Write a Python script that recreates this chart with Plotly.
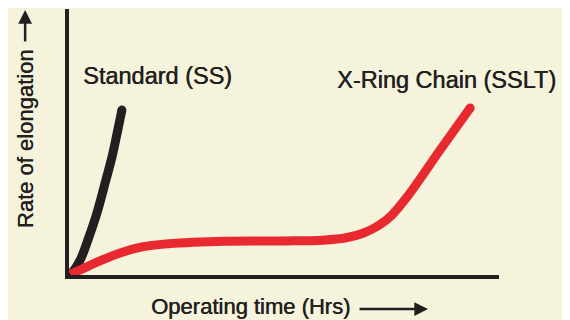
import plotly.graph_objects as go

# Data (arbitrary units)
standard_x = [0, 1.0, 2.6, 4.4, 6.5, 8.4, 10.0, 11.2, 12.3]
standard_y = [0, 1.5, 5.6, 13.2, 23.3, 34.6, 44.4, 53.4, 62.0]

xring_x = [0.3, 3.0, 7.2, 11.9, 16.5, 22.0, 34.4, 50.0, 59.0, 64.5, 68.5, 72.0, 75.0, 78.6, 86.3, 93.3]
xring_y = [0.2, 2.2, 5.3, 8.3, 10.4, 11.6, 12.6, 12.8, 13.1, 14.0, 15.8, 18.6, 22.4, 29.3, 47.0, 62.8]

labels = ["Standard (SS)", "X-Ring Chain (SSLT)"]
x_title = "Operating time (Hrs)"
y_title = "Rate of elongation"

BG = "#f5f3dc"
DARK = "#231f20"
RED = "#e8292f"
FONT = "Liberation Sans"
SH = "0.5px 0px 0px #231f20"

fig = go.Figure()
fig.add_trace(go.Scatter(x=standard_x, y=standard_y, mode="lines", line=dict(color=DARK, width=9, shape="spline", smoothing=1.0),
                         hoverinfo="skip", showlegend=False))
fig.add_trace(go.Scatter(x=[standard_x[-1]], y=[standard_y[-1]], mode="markers", marker=dict(color=DARK, size=9),
                         hoverinfo="skip", showlegend=False))
fig.add_trace(go.Scatter(x=xring_x, y=xring_y, mode="lines", line=dict(color=RED, width=9, shape="spline", smoothing=1.0),
                         hoverinfo="skip", showlegend=False))
fig.add_trace(go.Scatter(x=[xring_x[-1]], y=[xring_y[-1]], mode="markers", marker=dict(color=RED, size=9),
                         hoverinfo="skip", showlegend=False))

fig.update_xaxes(range=[0, 100], showline=True, linewidth=4, linecolor=DARK, showgrid=False,
                 zeroline=False, showticklabels=False, ticks="")
fig.update_yaxes(range=[0, 100], showline=True, linewidth=4, linecolor=DARK, showgrid=False,
                 zeroline=False, showticklabels=False, ticks="")

tf = dict(family=FONT, size=23.5, color=DARK, shadow=SH)
af = dict(family=FONT, size=22, color=DARK, shadow=SH)
fig.add_annotation(text=labels[0], xref="paper", yref="paper", x=0.205, y=0.748, showarrow=False, font=tf,
                   xanchor="center", yanchor="middle")
fig.add_annotation(text=labels[1], xref="paper", yref="paper", x=0.877, y=0.733, showarrow=False, font=tf,
                   xanchor="center", yanchor="middle")
fig.add_annotation(text=x_title, xref="paper", yref="paper", x=0.423, y=-0.120, showarrow=False, font=af,
                   xanchor="center", yanchor="middle")
fig.add_annotation(text=y_title, xref="paper", yref="paper", x=-0.102, y=0.511, showarrow=False, textangle=-90,
                   font=af, xanchor="center", yanchor="middle")
# arrows
fig.add_annotation(text="", xref="paper", yref="paper", x=0.835, y=-0.128, ax=-70, ay=0,
                   showarrow=True, arrowhead=2, arrowsize=1.1, arrowwidth=2.5, arrowcolor=DARK)
fig.add_annotation(text="", xref="paper", yref="paper", x=-0.102, y=0.996, ax=0, ay=33,
                   showarrow=True, arrowhead=2, arrowsize=1.1, arrowwidth=2.5, arrowcolor=DARK)

fig.add_shape(type="line", xref="paper", yref="paper", x0=1.159, x1=1.159, y0=-0.25, y1=1.1,
              line=dict(color=DARK, width=3))

# page body has an 8px margin, so the figure is offset by 8px in both directions
fig.update_layout(width=570, height=320, margin=dict(l=61, r=79, t=1, b=53),
                  paper_bgcolor=BG, plot_bgcolor=BG)

fig.write_html("out.html")
